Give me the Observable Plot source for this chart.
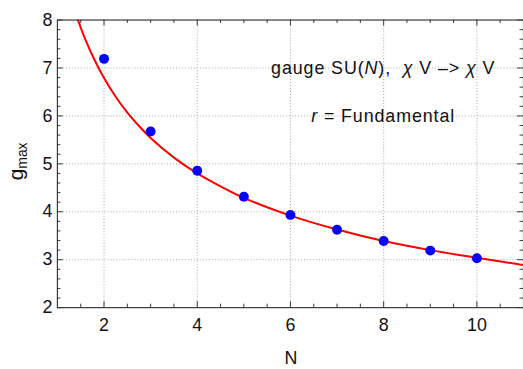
<!DOCTYPE html>
<html><head><meta charset="utf-8">
<script src="https://cdn.jsdelivr.net/npm/d3@7"></script>
<script src="https://cdn.jsdelivr.net/npm/@observablehq/plot@0.6"></script>
<style>
html,body{margin:0;padding:0;background:#fff;overflow:hidden;}
svg{font-family:"Liberation Sans",Arial,sans-serif;}
</style></head>
<body><div id="chart"></div>
<script>
// Data points
const N = [2, 3, 4, 5, 6, 7, 8, 9, 10];
const gmax = [7.19, 5.675, 4.855, 4.315, 3.935, 3.625, 3.39, 3.19, 3.03];
// Fitted curve
const curveN = [1.43, 1.6, 1.8, 2, 2.25, 2.5, 2.75, 3, 3.5, 4, 4.5, 5, 6, 7, 8, 9, 10, 11];
const curveG = [8.03, 7.59, 7.16, 6.79, 6.40, 6.07, 5.79, 5.54, 5.13, 4.80, 4.53, 4.29, 3.92, 3.63, 3.39, 3.20, 3.04, 2.89];
// Ticks
const xMajor = [2, 4, 6, 8, 10];
const xMinor = [1.5, 2.5, 3, 3.5, 4.5, 5, 5.5, 6.5, 7, 7.5, 8.5, 9, 9.5, 10.5];
const yMajor = [2, 3, 4, 5, 6, 7, 8];
const yMinor = [2.2, 2.4, 2.6, 2.8, 3.2, 3.4, 3.6, 3.8, 4.2, 4.4, 4.6, 4.8, 5.2, 5.4, 5.6, 5.8, 6.2, 6.4, 6.6, 6.8, 7.2, 7.4, 7.6, 7.8];
const xGrid = [2, 4, 6, 8, 10];
const yGrid = [3, 4, 5, 6, 7];

const points = N.map((n, i) => ({N: n, g: gmax[i]}));
const curve = curveN.map((n, i) => ({N: n, g: curveG[i]}));

const W = 527, H = 369, mL = 57.35, mR = 0, mT = 19.7, mB = 59.5;
const pw = W - mL - mR, ph = H - mT - mB;
const axisColor = "#3a3a3a";
const gridStyle = {stroke: "#a8a8a8", strokeWidth: 1, strokeDasharray: "1,2"};

const plot = Plot.plot({
  width: W, height: H,
  marginLeft: mL, marginRight: mR, marginTop: mT, marginBottom: mB,
  style: {fontFamily: '"Liberation Sans", Arial, sans-serif', background: "white", color: "#111"},
  x: {domain: [1, 11], axis: null},
  y: {domain: [2, 8], axis: null},
  marks: [
    Plot.ruleX(xGrid, {...gridStyle}),
    Plot.ruleY(yGrid, {...gridStyle}),
    Plot.line(curve, {x: "N", y: "g", stroke: "#ff0000", strokeWidth: 2, curve: "catmull-rom", clip: true}),
    Plot.dot(points, {x: "N", y: "g", r: 5, fill: "#0000ff", stroke: "none"}),
    // inward ticks
    Plot.tickX(xMajor, {x: d => d, insetTop: ph - 6, stroke: axisColor}),
    Plot.tickX(xMinor, {x: d => d, insetTop: ph - 3.5, stroke: axisColor}),
    Plot.tickX(xMajor, {x: d => d, insetBottom: ph - 6, stroke: axisColor}),
    Plot.tickX(xMinor, {x: d => d, insetBottom: ph - 3.5, stroke: axisColor}),
    Plot.tickY(yMajor, {y: d => d, insetRight: pw - 6, stroke: axisColor}),
    Plot.tickY(yMinor, {y: d => d, insetRight: pw - 3.5, stroke: axisColor}),
    Plot.tickY(yMajor, {y: d => d, insetLeft: pw - 6, stroke: axisColor}),
    Plot.tickY(yMinor, {y: d => d, insetLeft: pw - 3.5, stroke: axisColor}),
    Plot.frame({stroke: axisColor, strokeWidth: 1.2}),
    // tick labels
    Plot.text(xMajor, {x: d => d, text: d => String(d), frameAnchor: "bottom", lineAnchor: "middle", dy: 18, fontSize: 18, fill: "#111"}),
    Plot.text(yMajor, {y: d => d, text: d => String(d), frameAnchor: "left", textAnchor: "end", dx: -5, fontSize: 18, fill: "#111"})
  ]
});
document.getElementById("chart").appendChild(plot);

const svg = d3.select(plot);
const sx = plot.scale("x"), sy = plot.scale("y");

// X label
svg.append("text")
  .attr("x", mL + pw / 2 + 1).attr("y", 360).attr("dy", "0.35em")
  .attr("text-anchor", "middle").style("font-size", "18px").attr("fill", "#111")
  .text("N");

// Y label g_max
const yl = svg.append("text")
  .attr("transform", `translate(23,${(mT + H - mB) / 2 - 2}) rotate(-90)`)
  .attr("text-anchor", "middle")
  .style("font-size", "21px").attr("fill", "#111");
yl.append("tspan").text("g");
yl.append("tspan").attr("dy", "0.28em").style("font-size", "14px").text("max");

// Annotations
const a1 = svg.append("text")
  .attr("x", sx.apply(8)).attr("y", sy.apply(7)).attr("dy", "0.35em")
  .attr("text-anchor", "middle").style("font-size", "18px").style("letter-spacing", "0.9px").attr("fill", "#111");
a1.append("tspan").text("gauge SU(");
a1.append("tspan").style("font-style", "italic").text("N");
a1.append("tspan").text("),  ");
a1.append("tspan").style("font-style", "italic").text("χ");
a1.append("tspan").text(" V \u2013> ");
a1.append("tspan").style("font-style", "italic").text("χ");
a1.append("tspan").text(" V");

const a2 = svg.append("text")
  .attr("x", sx.apply(8)).attr("y", sy.apply(6)).attr("dy", "0.35em")
  .attr("text-anchor", "middle").style("font-size", "18px").style("letter-spacing", "0.9px").attr("fill", "#111");
a2.append("tspan").style("font-style", "italic").text("r");
a2.append("tspan").text(" = Fundamental");
</script>
</body></html>
